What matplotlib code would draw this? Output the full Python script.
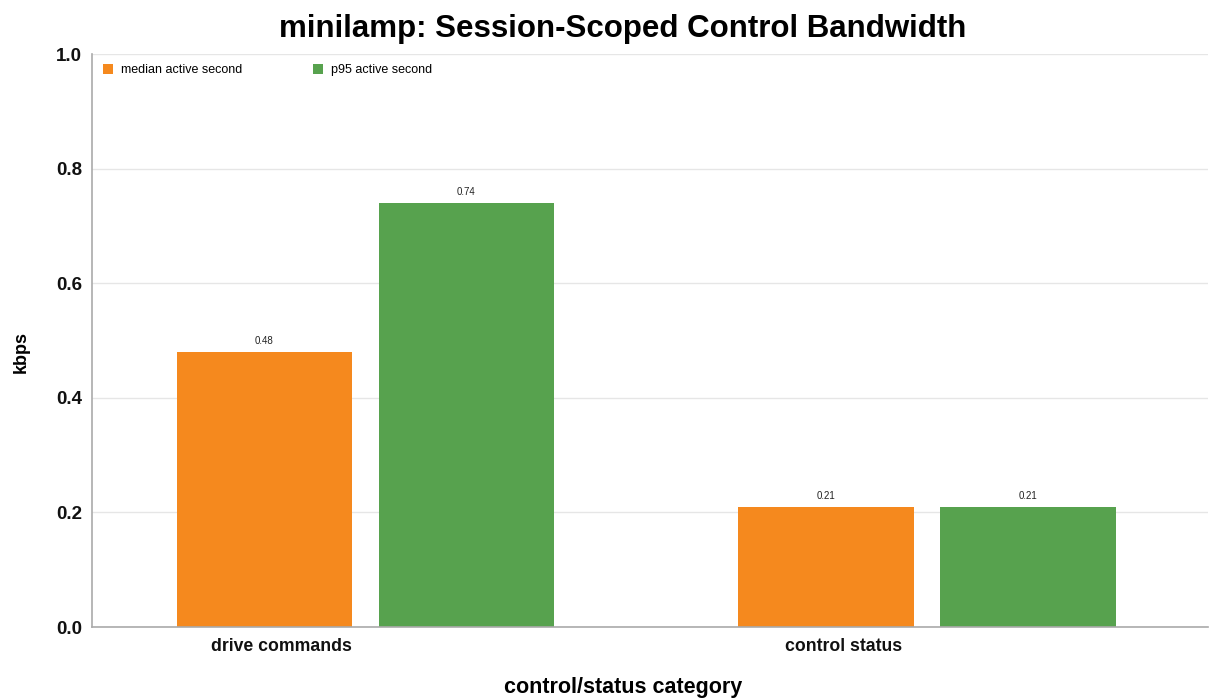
import numpy as np
import matplotlib.pyplot as plt

plt.rcParams['font.family'] = ['Liberation Sans', 'DejaVu Sans']

categories = ['drive commands', 'control status']
median_kbps = [0.48, 0.21]
p95_kbps = [0.74, 0.21]
series_names = ['median active second', 'p95 active second']

orange = '#f5891e'
green = '#57a24e'

fig = plt.figure(figsize=(12.1, 6.98), dpi=100)
ax = fig.add_axes([0.076, 0.1017, 0.922, 0.8209])

x = np.arange(len(categories)) * 1.007 + 0.49
barWidth = 0.314
off = 0.181

b1 = ax.bar(x - off, median_kbps, width=barWidth, color=orange, label=series_names[0])
b2 = ax.bar(x + off, p95_kbps, width=barWidth, color=green, label=series_names[1])

# value labels above each bar
for bars, vals in ((b1, median_kbps), (b2, p95_kbps)):
    for rect, v in zip(bars, vals):
        ax.annotate(f'{v:.2f}', (rect.get_x() + rect.get_width() / 2, v),
                    xytext=(0, 4), textcoords='offset points',
                    ha='center', va='bottom', fontsize=7, color='#222222')

ax.set_xlim(0, len(categories))
ax.set_ylim(0, 1.0)
yt = np.arange(0, 1.01, 0.2)
ax.set_yticks(yt)
ax.set_yticklabels([f'{t:.1f}' for t in yt], fontsize=13.5, fontweight='bold')
ax.set_xticks(x - 0.15)
ax.set_xticklabels(categories, fontsize=12.7, fontweight='bold')
ax.tick_params(axis='both', length=0, pad=8, colors='#111111')
ax.tick_params(axis='y', pad=7)

ax.grid(axis='y', color='#e6e6e6', linewidth=1)
ax.set_axisbelow(True)
for s in ('top', 'right'):
    ax.spines[s].set_visible(False)
for s in ('left', 'bottom'):
    ax.spines[s].set_color('#aaaaaa')
    ax.spines[s].set_linewidth(1.2)

fig.text(623 / 1210, 1 - 29 / 698, 'minilamp: Session-Scoped Control Bandwidth',
         fontsize=22.5, fontweight='bold', ha='center', va='center')
fig.text(623 / 1210, 1 - 688 / 698, 'control/status category',
         fontsize=15.5, fontweight='bold', ha='center', va='center')
fig.text(21 / 1210, 1 - 352 / 698, 'kbps', rotation=90,
         fontsize=13, fontweight='bold', ha='center', va='center')

ax.legend(loc='upper left', ncol=2, frameon=False, fontsize=9,
          handlelength=0.75, handleheight=0.85, handletextpad=0.65,
          columnspacing=5.7, bbox_to_anchor=(0.0, 1.003), borderaxespad=0.5)

fig.savefig('out.png', dpi=100)
